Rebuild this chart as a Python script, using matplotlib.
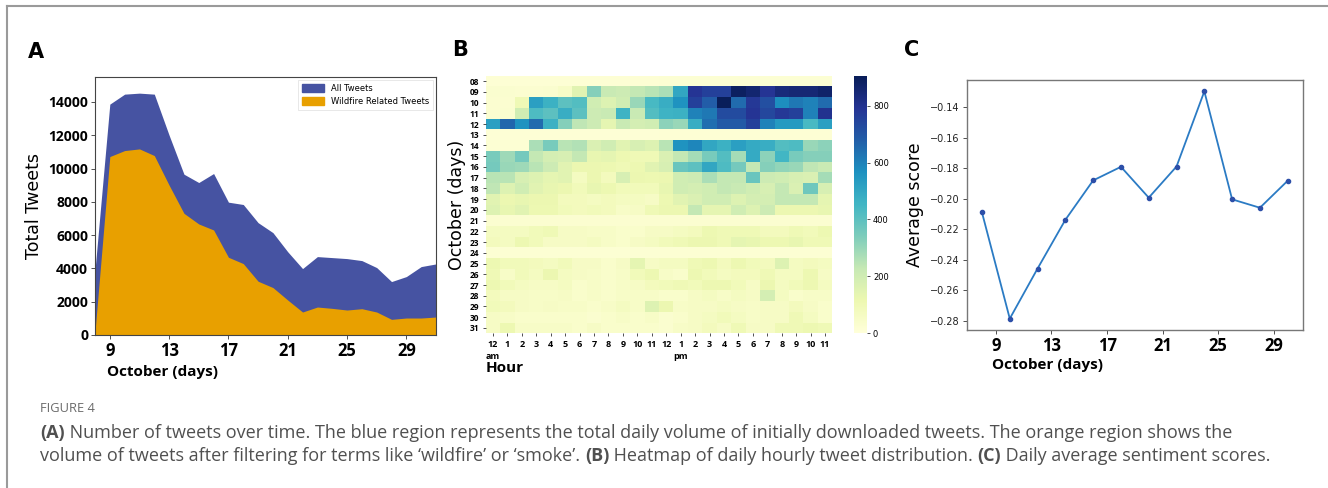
import numpy as np
import matplotlib
matplotlib.use("Agg")
import matplotlib.pyplot as plt
from matplotlib.patches import Patch
from matplotlib.lines import Line2D

# ---------------- data ----------------
days_a = list(range(8, 32))
all_tweets = [3900, 13870, 14470, 14530, 14470, 12000, 9660, 9160, 9700, 7980, 7840, 6750,
              6150, 5000, 3990, 4710, 4650, 4590, 4470, 4050, 3210, 3510, 4110, 4270]
wildfire_tweets = [200, 10720, 11080, 11180, 10780, 9000, 7310, 6670, 6310, 4670, 4290, 3230,
                   2850, 2100, 1380, 1680, 1600, 1500, 1580, 1380, 940, 1020, 1020, 1080]

heat_days = ["%02d" % d for d in range(8, 32)]
hour_labels = ["12\nam"] + [str(h) for h in range(1, 12)] + ["12", "1\npm"] + [str(h) for h in range(2, 12)]
heat_values = [
    [15, 15, 15, 15, 15, 15, 15, 15, 15, 15, 15, 15, 20, 20, 20, 20, 20, 20, 20, 20, 20, 20, 20, 20],  # 08
    [30, 30, 25, 25, 30, 50, 150, 330, 220, 210, 230, 250, 270, 500, 790, 760, 760, 890, 860, 790, 840, 850, 850, 870],  # 09
    [25, 25, 100, 520, 470, 400, 420, 200, 160, 200, 300, 440, 480, 560, 760, 680, 900, 650, 780, 720, 570, 620, 600, 650],  # 10
    [25, 30, 200, 430, 400, 480, 400, 210, 220, 460, 220, 420, 460, 470, 600, 620, 730, 730, 790, 740, 780, 760, 600, 800],  # 11
    [520, 660, 560, 650, 470, 330, 240, 210, 140, 220, 190, 200, 320, 300, 480, 640, 690, 690, 760, 600, 540, 540, 440, 520],  # 12
    [12, 12, 12, 12, 12, 12, 12, 12, 12, 12, 12, 12, 15, 15, 15, 15, 15, 15, 15, 15, 15, 15, 15, 15],  # 13
    [20, 20, 20, 270, 350, 250, 260, 170, 200, 150, 180, 160, 250, 560, 590, 500, 470, 520, 490, 480, 420, 430, 300, 320],  # 14
    [350, 290, 360, 230, 190, 180, 230, 130, 140, 110, 100, 100, 170, 230, 280, 350, 420, 280, 490, 320, 450, 350, 330, 330],  # 15
    [360, 300, 290, 250, 210, 150, 120, 120, 110, 100, 110, 150, 180, 380, 400, 500, 430, 360, 230, 330, 310, 300, 240, 220],  # 16
    [250, 250, 180, 160, 140, 150, 70, 120, 80, 180, 120, 110, 120, 200, 210, 270, 230, 230, 380, 210, 200, 180, 170, 280],  # 17
    [240, 160, 200, 150, 130, 120, 90, 130, 110, 90, 90, 90, 130, 200, 190, 200, 230, 220, 200, 180, 230, 170, 370, 180],  # 18
    [150, 120, 130, 120, 120, 80, 80, 70, 80, 70, 70, 60, 110, 150, 170, 200, 200, 160, 190, 190, 230, 230, 230, 140],  # 19
    [160, 130, 150, 110, 110, 90, 80, 90, 80, 50, 60, 100, 120, 120, 230, 140, 140, 200, 160, 210, 120, 120, 120, 130],  # 20
    [25, 25, 25, 25, 25, 25, 25, 25, 25, 25, 25, 25, 25, 25, 25, 25, 25, 25, 25, 25, 25, 25, 25, 25],  # 21
    [70, 70, 70, 90, 100, 60, 60, 50, 50, 40, 40, 60, 60, 70, 80, 110, 100, 100, 100, 80, 80, 100, 90, 110],  # 22
    [80, 70, 110, 90, 60, 60, 60, 70, 50, 40, 60, 70, 90, 100, 120, 120, 100, 140, 130, 110, 110, 130, 100, 100],  # 23
    [20, 20, 20, 20, 20, 20, 20, 20, 20, 20, 20, 20, 20, 20, 20, 20, 20, 20, 20, 20, 20, 20, 20, 20],  # 24
    [110, 90, 90, 80, 70, 90, 60, 60, 40, 60, 140, 60, 70, 70, 100, 110, 80, 110, 90, 80, 160, 70, 80, 70],  # 25
    [100, 50, 90, 70, 120, 70, 60, 50, 40, 50, 90, 110, 50, 40, 110, 90, 70, 80, 80, 100, 70, 70, 110, 60],  # 26
    [110, 90, 70, 60, 60, 70, 40, 50, 40, 50, 60, 80, 90, 100, 90, 110, 110, 90, 60, 120, 70, 90, 110, 70],  # 27
    [80, 60, 60, 50, 50, 60, 40, 50, 40, 50, 50, 50, 40, 40, 60, 70, 50, 70, 60, 190, 70, 40, 50, 50],  # 28
    [90, 80, 60, 50, 60, 50, 50, 40, 50, 70, 50, 160, 120, 50, 60, 60, 70, 60, 50, 60, 60, 80, 60, 40],  # 29
    [60, 50, 40, 40, 40, 40, 40, 30, 40, 50, 40, 50, 30, 40, 60, 70, 90, 70, 50, 60, 60, 100, 70, 40],  # 30
    [60, 110, 50, 50, 50, 50, 40, 60, 40, 40, 40, 40, 30, 50, 60, 80, 60, 100, 60, 60, 100, 100, 110, 100],  # 31
]

days_c = [8, 10, 12, 14, 16, 18, 20, 22, 24, 26, 28, 30]
avg_score = [-0.209, -0.2785, -0.2457, -0.2138, -0.188, -0.1791, -0.1993, -0.1789, -0.1297,
             -0.2004, -0.2059, -0.1882]

# ---------------- figure ----------------
W, H = 1328, 488
fig = plt.figure(figsize=(W / 100, H / 100), dpi=100)
fig.patch.set_facecolor("white")

def fbox(l, t, r, b):
    return [l / W, 1 - b / H, (r - l) / W, (b - t) / H]

blue = "#4653A2"
orange = "#E8A000"

# frame lines
fig.add_artist(Line2D([7 / W, 7 / W], [0, 1 - 6 / H], color="#9a9a9a", lw=1.5, transform=fig.transFigure))
fig.add_artist(Line2D([7 / W, 1], [1 - 6 / H, 1 - 6 / H], color="#9a9a9a", lw=1.5, transform=fig.transFigure))

# ---------------- Panel A ----------------
axA = fig.add_axes(fbox(95, 77, 436, 335))
axA.fill_between(days_a, all_tweets, color=blue, lw=0)
axA.fill_between(days_a, wildfire_tweets, color=orange, lw=0)
axA.set_xlim(8, 31)
axA.set_ylim(0, 15500)
axA.set_xticks([9, 13, 17, 21, 25, 29])
axA.set_yticks(range(0, 14001, 2000))
for lab in axA.get_xticklabels():
    lab.set_fontproperties(dict(family="Open Sans", weight="bold", size=12))
for lab in axA.get_yticklabels():
    lab.set_fontproperties(dict(family="Open Sans", weight="bold", size=10))
axA.tick_params(axis="both", length=3, width=0.6, color="#333333", pad=2)
axA.set_xlabel("October (days)", fontdict=dict(family="Open Sans", weight="bold", size=11), labelpad=2)
axA.xaxis.set_label_coords(0.035, -0.115)
axA.xaxis.label.set_ha("left")
axA.set_ylabel("Total Tweets", fontsize=12.5, labelpad=4)
for s in axA.spines.values():
    s.set_color("#444444")
    s.set_linewidth(0.8)
leg = axA.legend(handles=[Patch(color=blue, label="All Tweets"),
                          Patch(color=orange, label="Wildfire Related Tweets")],
                 loc="upper right", fontsize=6, frameon=True, fancybox=False,
                 edgecolor="#dddddd", handlelength=2.6, handleheight=1.0,
                 borderpad=0.5, labelspacing=0.45, borderaxespad=0.35)
leg.get_frame().set_linewidth(0.6)
fig.text(28 / W, 1 - 52 / H, "A", fontsize=15, weight="bold", va="center", ha="left")

# ---------------- Panel B ----------------
axB = fig.add_axes(fbox(485.7, 75.7, 832.3, 333.3))
cax = fig.add_axes(fbox(854, 75.7, 866.7, 333.3))
hv = np.array(heat_values, dtype=float)
mesh = axB.pcolormesh(hv, cmap="YlGnBu", vmin=0, vmax=905)
axB.set_xlim(0, hv.shape[1])
axB.set_ylim(hv.shape[0], 0)
axB.set_xticks(np.arange(hv.shape[1]) + 0.5)
axB.set_xticklabels(hour_labels, fontdict=dict(family="Open Sans", weight="bold", size=6.5), linespacing=1.55)
axB.set_yticks(np.arange(hv.shape[0]) + 0.5)
axB.set_yticklabels(heat_days, fontdict=dict(family="Open Sans", weight="bold", size=6))
axB.tick_params(axis="both", length=2.5, width=0.6, color="#333333", pad=2)
for s in axB.spines.values():
    s.set_visible(False)
axB.set_xlabel("Hour", fontdict=dict(family="Open Sans", weight="bold", size=11), loc="left", labelpad=0)
axB.set_ylabel("October (days)", fontsize=12.5, labelpad=3)
cb = fig.colorbar(mesh, cax=cax)
cb.outline.set_visible(False)
cb.set_ticks([0, 200, 400, 600, 800])
cb.ax.tick_params(labelsize=6, length=2.5, width=0.6, color="#333333", pad=2)
fig.text(452 / W, 1 - 50 / H, "B", fontsize=15, weight="bold", va="center", ha="left")

# ---------------- Panel C ----------------
axC = fig.add_axes(fbox(966.7, 80, 1303, 330))
axC.plot(days_c, avg_score, color="#2b7bc4", lw=1.3, marker="o", markersize=3,
         markerfacecolor="#2d4fa8", markeredgecolor="#2d4fa8")
axC.set_xticks([9, 13, 17, 21, 25, 29])
axC.set_yticks([-0.28, -0.26, -0.24, -0.22, -0.20, -0.18, -0.16, -0.14])
axC.set_yticklabels(["\u22120.28", "\u22120.26", "\u22120.24", "\u22120.22", "\u22120.20",
                     "\u22120.18", "\u22120.16", "\u22120.14"], fontsize=7, color="#222222")
for lab in axC.get_xticklabels():
    lab.set_fontproperties(dict(family="Open Sans", weight="bold", size=12))
axC.tick_params(axis="both", length=3, width=0.6, color="#333333", pad=2)
axC.set_xlabel("October (days)", fontdict=dict(family="Open Sans", weight="bold", size=11), labelpad=2)
axC.xaxis.set_label_coords(0.074, -0.112)
axC.xaxis.label.set_ha("left")
axC.set_ylabel("Average score", fontsize=12.5, labelpad=4)
for s in axC.spines.values():
    s.set_color("#777777")
    s.set_linewidth(1.0)
fig.text(904 / W, 1 - 50 / H, "C", fontsize=15, weight="bold", va="center", ha="left")

# ---------------- Caption ----------------
cap_color = "#505050"
fig.text(40 / W, 1 - 408 / H, "FIGURE 4", family="Open Sans", fontsize=9.3, color="#6a6a6a", va="center")

renderer = fig.canvas.get_renderer()

def rich_line(x_px, y_px, parts, size=13.0):
    x = x_px
    for txt, wt in parts:
        t = fig.text(x / W, 1 - y_px / H, txt, family="Open Sans", weight=wt, fontsize=size,
                     color=cap_color, va="center", ha="left")
        bb = t.get_window_extent(renderer=renderer)
        x += bb.width

rich_line(40, 433, [("(A)", "bold"),
                    (" Number of tweets over time. The blue region represents the total daily volume of initially downloaded tweets. The orange region shows the", "normal")])
rich_line(40, 456, [("volume of tweets after filtering for terms like \u2018wildfire\u2019 or \u2018smoke\u2019. ", "normal"),
                    ("(B)", "bold"),
                    (" Heatmap of daily hourly tweet distribution. ", "normal"),
                    ("(C)", "bold"),
                    (" Daily average sentiment scores.", "normal")])

fig.savefig("out.png", dpi=100, facecolor="white")
